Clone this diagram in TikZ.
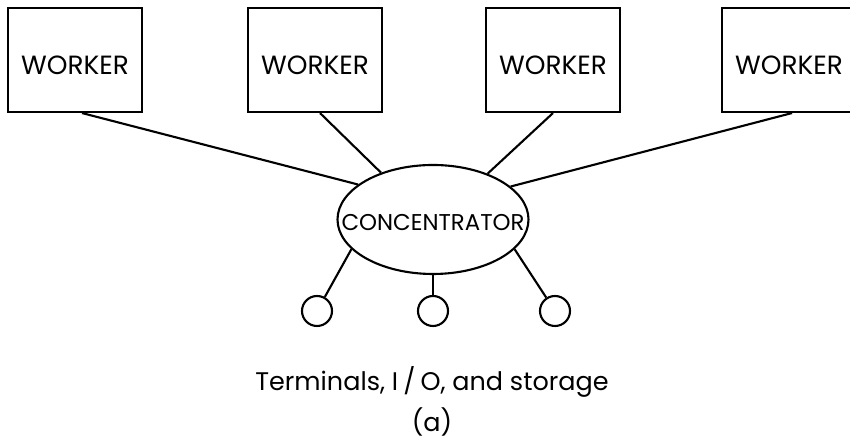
\documentclass[tikz,border=0pt]{standalone}
\usepackage{fontspec}
\setmainfont{Poppins}
\usetikzlibrary{calc,positioning,shapes.geometric}

\begin{document}
\begin{tikzpicture}[
    worker/.style={draw, line width=1.2pt, minimum width=2.68cm, minimum height=2.08cm, text height=16pt, text depth=0pt, font=\fontsize{15}{18}\selectfont},
    hub/.style={draw, ellipse, line width=1.2pt, minimum width=3.82cm, minimum height=2.18cm, inner sep=0pt},
    term/.style={draw, circle, line width=1.2pt, minimum size=0.6cm, inner sep=0pt},
    conn/.style={line width=1.2pt}
  ]
  \useasboundingbox (0,0) rectangle (17,8.76);

  % Workers
  \node[worker] (w1) at (1.50, 7.56) {WORKER};
  \node[worker] (w2) at (6.30, 7.56) {WORKER};
  \node[worker] (w3) at (11.06, 7.56) {WORKER};
  \node[worker] (w4) at (15.78, 7.56) {WORKER};

  % Concentrator
  \node[hub] (conc) at (8.66, 4.37) {};
  \node[font=\fontsize{13}{16}\selectfont] (conctext) at ([yshift=-0.06cm]conc.center) {CONCENTRATOR};

  % Terminals
  \node[term] (t1) at (6.34, 2.54) {};
  \node[term] (t2) at (8.66, 2.54) {};
  \node[term] (t3) at (11.10, 2.54) {};

  % Links
  \draw[conn] ([xshift=0.14cm]w1.south) -- (conc.155);
  \draw[conn] ([xshift=0.10cm]w2.south) -- (conc.138);
  \draw[conn] (w3.south) -- (conc.40);
  \draw[conn] ([xshift=0.06cm]w4.south) -- (conc.23);
  \draw[conn] (conc.200) -- (t1);
  \draw[conn] (conc.270) -- (t2);
  \draw[conn] (conc.340) -- (t3);

  % Caption
  \node[font=\fontsize{14.5}{17}\selectfont] (cap) at (8.64, 1.12) {Terminals, I\hspace{0.2em}/\hspace{0.2em}O, and storage};
  \node[font=\fontsize{14.5}{17}\selectfont] (sub) at (8.64, 0.32) {(a)};
\end{tikzpicture}
\end{document}
